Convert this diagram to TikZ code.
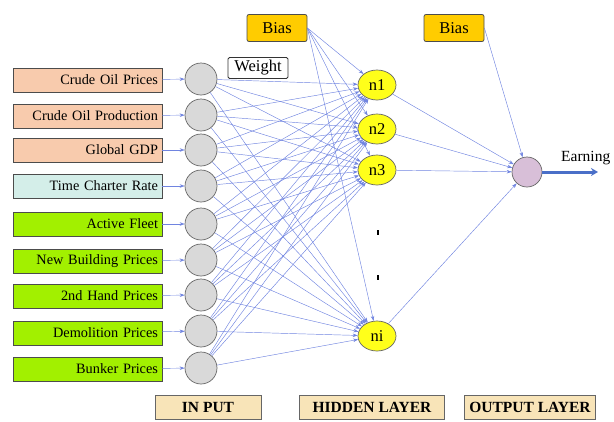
\documentclass[tikz,border=0pt]{standalone}
\usepackage{fontspec}
\setmainfont{Liberation Serif}
\usetikzlibrary{arrows.meta,shapes.geometric}
\definecolor{salmon}{HTML}{F8CBAD}
\definecolor{paleteal}{HTML}{D4EEE9}
\definecolor{lime}{HTML}{A2F000}
\definecolor{biasgold}{HTML}{FFCC00}
\definecolor{hidyellow}{HTML}{FFFF1A}
\definecolor{ingray}{HTML}{D9D9D9}
\definecolor{lav}{HTML}{D8BFD8}
\definecolor{tan}{HTML}{F8E4B8}
\definecolor{linkblue}{HTML}{7084E0}
\definecolor{outblue}{HTML}{4A6FC8}
\tikzset{
  inbox/.style={draw=black!70, line width=0.8pt, rectangle, minimum height=24pt, text width=141pt, align=right, inner xsep=4pt, inner ysep=0pt, font=\fontsize{14.3}{15}\selectfont},
  incirc/.style={draw=black!60, line width=0.7pt, circle, fill=ingray, minimum size=32pt, inner sep=0pt},
  hid/.style={draw=black!60, line width=0.7pt, ellipse, fill=hidyellow, minimum width=38pt, minimum height=30pt, inner sep=0pt, font=\fontsize{16.5}{17}\selectfont},
  biasbox/.style={draw=black!70, line width=0.8pt, rounded corners=2pt, fill=biasgold, minimum width=60pt, minimum height=27pt, inner sep=0pt, font=\fontsize{16.5}{17}\selectfont},
  layerbox/.style={draw=black!60, line width=0.8pt, fill=tan, minimum height=24pt, inner sep=0pt, font=\bfseries\fontsize{15.5}{16}\selectfont},
  conn/.style={linkblue, line width=0.45pt, -{Stealth[length=5pt,width=3.5pt]}},
}
\begin{document}
\begin{tikzpicture}[x=1pt,y=-1pt]
\useasboundingbox (0,0) rectangle (614,421);
% input boxes
\node[inbox, fill=salmon] (b1) at (87.5,80) {Crude Oil Prices};
\node[inbox, fill=salmon] (b2) at (87.5,116) {Crude Oil Production};
\node[inbox, fill=salmon] (b3) at (87.5,150) {Global GDP};
\node[inbox, fill=paleteal] (b4) at (87.5,186) {Time Charter Rate};
\node[inbox, fill=lime] (b5) at (87.5,224) {Active Fleet};
\node[inbox, fill=lime] (b6) at (87.5,261) {New Building Prices};
\node[inbox, fill=lime] (b7) at (87.5,296) {2nd Hand Prices};
\node[inbox, fill=lime] (b8) at (87.5,333) {Demolition Prices};
\node[inbox, fill=lime] (b9) at (87.5,369) {Bunker Prices};
% input circles
\foreach \i/\y in {1/79,2/115,3/150,4/186,5/224,6/260,7/295,8/331,9/368}{
  \node[incirc] (c\i) at (201,\y) {};
}
% hidden
\node[hid] (h1) at (377,85) {n1};
\node[hid] (h2) at (377,129) {n2};
\node[hid] (h3) at (377,170) {n3};
\node[hid] (h4) at (377,336) {ni};
% dots
\node[inner sep=0pt, minimum width=2pt, minimum height=5pt, fill=black] (d1) at (378,232) {};
\node[inner sep=0pt, minimum width=2pt, minimum height=5pt, fill=black] (d2) at (378,277) {};
% bias
\node[biasbox] (bias1) at (277,28) {Bias};
\node[biasbox] (bias2) at (454,28) {Bias};
% weight
\node[draw=black!80, line width=0.8pt, rounded corners=1.5pt, fill=white, minimum width=60pt, minimum height=21pt, inner sep=0pt, font=\fontsize{16.5}{17}\selectfont] (w) at (258,68) {Weight};
% output
\node[draw=black!60, line width=0.7pt, circle, fill=lav, minimum size=30pt, inner sep=0pt] (o) at (527,172) {};
\coordinate (oend) at (598,172);
\node[font=\fontsize{15.5}{16}\selectfont, anchor=south west, inner sep=0pt] (earn) at (561,165) {Earning};
% layer labels
\node[layerbox, minimum width=106pt] (l1) at (208,407) {IN PUT};
\node[layerbox, minimum width=145pt] (l2) at (372,407) {HIDDEN LAYER};
\node[layerbox, minimum width=131pt] (l3) at (530,407) {OUTPUT LAYER};
% connectors
\foreach \i in {1,...,9}{
  \draw[conn] (b\i) -- (c\i);
  \foreach \j in {1,...,4}{
    \draw[conn] (c\i) -- (h\j);
  }
}
\foreach \j in {1,...,4}{
  \draw[conn] (bias1.east) -- (h\j);
  \draw[conn] (h\j) -- (o);
}
\draw[conn] (bias2.east) -- (o);
\draw[outblue, line width=3pt, -{Stealth[length=7pt,width=8pt]}] (o) -- (oend);
\end{tikzpicture}
\end{document}
